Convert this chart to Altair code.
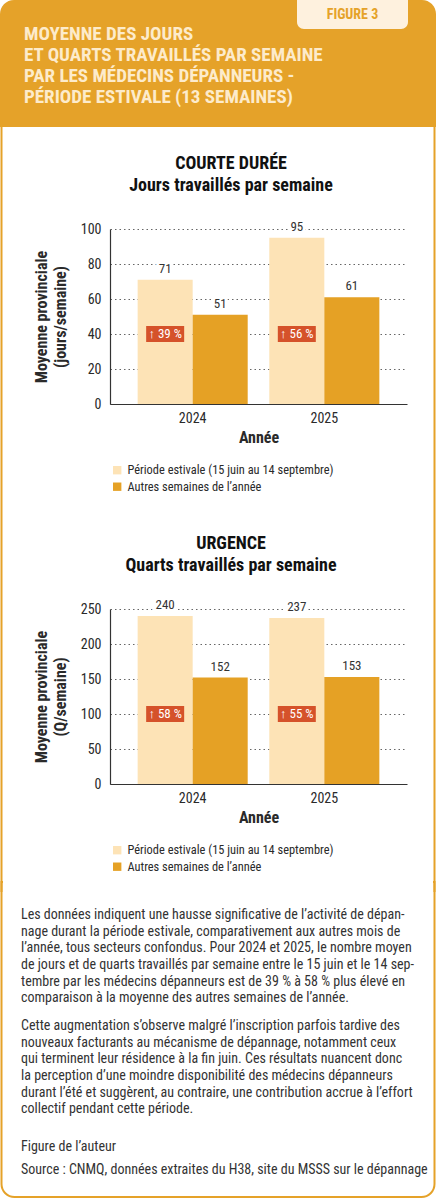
import altair as alt
import pandas as pd

# ---- data -------------------------------------------------------------
years = ["2024", "2025"]
periods = ["Période estivale (15 juin au 14 septembre)", "Autres semaines de l’année"]

courte_estivale = [71, 95]
courte_autres = [51, 61]
urgence_estivale = [240, 237]
urgence_autres = [152, 153]

header_lines = [
    "MOYENNE DES JOURS",
    "ET QUARTS TRAVAILLÉS PAR SEMAINE",
    "PAR LES MÉDECINS DÉPANNEURS -",
    "PÉRIODE ESTIVALE (13 SEMAINES)",
]
para1 = [
    "Les données indiquent une hausse significative de l’activité de dépan-",
    "nage durant la période estivale, comparativement aux autres mois de",
    "l’année, tous secteurs confondus. Pour 2024 et 2025, le nombre moyen",
    "de jours et de quarts travaillés par semaine entre le 15 juin et le 14 sep-",
    "tembre par les médecins dépanneurs est de 39 % à 58 % plus élevé en",
    "comparaison à la moyenne des autres semaines de l’année.",
]
para2 = [
    "Cette augmentation s’observe malgré l’inscription parfois tardive des",
    "nouveaux facturants au mécanisme de dépannage, notamment ceux",
    "qui terminent leur résidence à la fin juin. Ces résultats nuancent donc",
    "la perception d’une moindre disponibilité des médecins dépanneurs",
    "durant l’été et suggèrent, au contraire, une contribution accrue à l’effort",
    "collectif pendant cette période.",
]
credit = "Figure de l’auteur"
source = "Source : CNMQ, données extraites du H38, site du MSSS sur le dépannage"

# ---- style ------------------------------------------------------------
FONT = "Roboto Condensed"
ORANGE = "#E5A229"
PALE = "#FDE3B6"
BAR = "#E5A125"
BADGE = "#D5522A"
CREAM = "#FDEBCB"
TAB = "#FEF1DE"
INK = "#2a2a2a"

W = 436            # whole card width
HEADER_H = 140
TEXT_H = 320
PLOT_LEFT = 110    # every panel's origin sits this far from the card's left edge
PLOT_W = 297
PLOT_H = 175
TEXT_LIMIT = W - 24

one = pd.DataFrame({"k": [0]})
base = alt.Chart(one)


def px(x):
    """Card x coordinate -> panel coordinate."""
    return alt.value(x - PLOT_LEFT)


def frame(y0, y1):
    # invisible box covering the full card width; fixes each panel's extent
    return base.mark_rect(opacity=0).encode(
        x=px(0), x2=px(W), y=alt.value(y0), y2=alt.value(y1)
    )


def side_borders(y0, y1):
    return [
        base.mark_rect(color=ORANGE).encode(
            x=px(x0), x2=px(x0 + 2), y=alt.value(y0), y2=alt.value(y1)
        )
        for x0 in (0.5, W - 2.5)
    ]


# ---- header -----------------------------------------------------------
header = alt.layer(
    frame(0, HEADER_H),
    base.mark_rect(color=ORANGE, cornerRadiusTopLeft=14, cornerRadiusTopRight=14).encode(
        x=px(0), x2=px(W), y=alt.value(0), y2=alt.value(127)
    ),
    base.mark_rect(color=TAB, cornerRadiusBottomLeft=7, cornerRadiusBottomRight=7).encode(
        x=px(297), x2=px(408), y=alt.value(0), y2=alt.value(29)
    ),
    base.mark_text(
        text="FIGURE 3", font=FONT, fontSize=14, fontWeight="bold", color=ORANGE,
        align="center", baseline="middle",
    ).encode(x=px(352.5), y=alt.value(14.5)),
    base.mark_text(
        text=header_lines, font=FONT, fontSize=19, fontWeight="bold", color=CREAM,
        align="left", baseline="alphabetic", lineHeight=20.9, limit=TEXT_LIMIT,
    ).encode(x=px(24), y=alt.value(40)),
    *side_borders(120, HEADER_H),
).properties(width=PLOT_W, height=HEADER_H)


# ---- bar panels -------------------------------------------------------
def bar_panel(titles, ytitle, ticks, ymax, estivale, autres, badge_level, top, bottom):
    df = pd.DataFrame({
        "annee": years * 2,
        "periode": [periods[0]] * 2 + [periods[1]] * 2,
        "valeur": estivale + autres,
    })
    badges = pd.DataFrame({
        "annee": years,
        "periode": [periods[0]] * 2,
        "hausse": [f"↑ {round((e / a - 1) * 100)} %" for e, a in zip(estivale, autres)],
        "niveau": [badge_level] * 2,
    })

    x = alt.X(
        "annee:N",
        scale=alt.Scale(paddingInner=0.164, paddingOuter=0.21),
        axis=alt.Axis(
            title="Année", labelAngle=0, ticks=False, labelPadding=7,
            labelFont=FONT, labelFontSize=14, labelColor=INK,
            titleFont=FONT, titleFontSize=16, titleFontWeight="bold", titleColor=INK,
            titlePadding=4, domainColor="#333333", domainWidth=1.2, grid=False,
        ),
    )
    xo = alt.XOffset("periode:N", scale=alt.Scale(domain=periods, paddingInner=0, paddingOuter=0))
    y = alt.Y(
        "valeur:Q",
        scale=alt.Scale(domain=[0, ymax], nice=False),
        axis=alt.Axis(
            values=ticks, tickCount=len(ticks), title=ytitle, ticks=False,
            labelPadding=9, labelOverlap=False,
            labelFont=FONT, labelFontSize=14, labelColor=INK,
            titleFont=FONT, titleFontSize=16, titleFontWeight="bold", titleColor=INK,
            titleLineHeight=19, titlePadding=12,
            domainColor="#333333", domainWidth=1.2,
            grid=True, gridColor="#666666", gridDash=[1.5, 3], gridWidth=1,
        ),
    )
    color = alt.Color(
        "periode:N",
        scale=alt.Scale(domain=periods, range=[PALE, BAR]),
        legend=alt.Legend(
            title=None, orient="none", legendX=1, legendY=235, padding=0,
            symbolType="square", symbolSize=70, symbolStrokeWidth=0,
            labelFont=FONT, labelFontSize=12.4, labelColor=INK,
            labelOffset=4, rowPadding=3.5, labelLimit=300,
        ),
    )

    bars = alt.Chart(df).mark_bar().encode(x=x, xOffset=xo, y=y, color=color)
    # white halo keeps the dotted grid from running through the value labels
    value_halo = alt.Chart(df).mark_text(
        font=FONT, fontSize=13, color="white", stroke="white", strokeWidth=6,
        baseline="bottom", dy=-4,
    ).encode(x=x, xOffset=xo, y=y, text="valeur:Q")
    values = alt.Chart(df).mark_text(
        font=FONT, fontSize=13, color="#333333", baseline="bottom", dy=-4
    ).encode(x=x, xOffset=xo, y=y, text="valeur:Q")
    badge_box = alt.Chart(badges).mark_rect(width=38, height=16, color=BADGE).encode(
        x=alt.X("annee:N"), xOffset=alt.XOffset("periode:N"), y=alt.Y("niveau:Q")
    )
    badge_txt = alt.Chart(badges).mark_text(
        font=FONT, fontSize=13, color="white", align="center", baseline="middle"
    ).encode(x=alt.X("annee:N"), xOffset=alt.XOffset("periode:N"), y=alt.Y("niveau:Q"), text="hausse:N")

    heading = base.mark_text(
        text=titles, font=FONT, fontSize=18, fontWeight="bold", color="#111111",
        align="center", baseline="alphabetic", lineHeight=21.5,
    ).encode(x=px(231), y=alt.value(-60))

    return alt.layer(
        frame(-top, PLOT_H + bottom), bars, value_halo, values, badge_box, badge_txt, heading,
        *side_borders(-top, PLOT_H + bottom),
    ).properties(width=PLOT_W, height=PLOT_H)


courte = bar_panel(
    ["COURTE DURÉE", "Jours travaillés par semaine"],
    ["Moyenne provinciale", "(jours/semaine)"],
    [0, 20, 40, 60, 80, 100], 100,
    courte_estivale, courte_autres, 40, top=89, bottom=101,
)
urgence = bar_panel(
    ["URGENCE", "Quarts travaillés par semaine"],
    ["Moyenne provinciale", "(Q/semaine)"],
    [0, 50, 100, 150, 200, 250], 250,
    urgence_estivale, urgence_autres, 100, top=104, bottom=96,
)

# ---- text block -------------------------------------------------------
LH = 16.67
body_style = dict(font=FONT, fontSize=14, color="#333333", align="left",
                  baseline="alphabetic", limit=TEXT_LIMIT)
text_block = alt.layer(
    frame(0, TEXT_H),
    base.mark_text(text=para1, lineHeight=LH, **body_style).encode(x=px(21), y=alt.value(39)),
    base.mark_text(text=para2, lineHeight=LH, **body_style).encode(x=px(21), y=alt.value(150)),
    base.mark_text(text=credit, **body_style).encode(x=px(21), y=alt.value(271)),
    base.mark_text(text=source, **body_style).encode(x=px(21), y=alt.value(294)),
    base.mark_rect(
        fill="transparent", stroke=ORANGE, strokeWidth=2,
        cornerRadiusBottomLeft=13, cornerRadiusBottomRight=13,
    ).encode(x=px(1.5), x2=px(W - 1.5), y=alt.value(2), y2=alt.value(TEXT_H - 3)),
    base.mark_rect(color="white").encode(
        x=px(3), x2=px(W - 3), y=alt.value(0), y2=alt.value(4)
    ),
    *side_borders(0, 12),
).properties(width=PLOT_W, height=TEXT_H)

chart = (
    alt.vconcat(header, courte, urgence, text_block, spacing=0)
    .resolve_scale(color="independent")
    .properties(padding=0)
    .configure(background="white")
    .configure_view(stroke=None)
)

chart.save("out.html", embed_options={"renderer": "svg", "actions": False})
